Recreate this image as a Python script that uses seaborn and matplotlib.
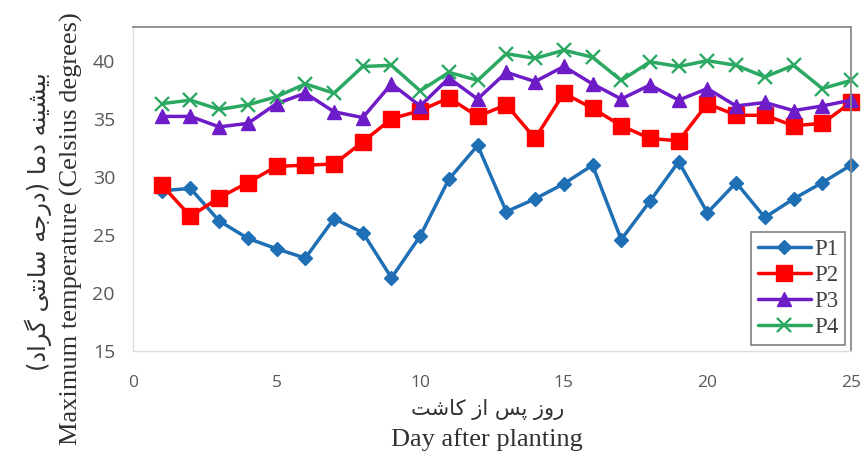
import matplotlib
matplotlib.use("Agg")
import matplotlib.pyplot as plt
import seaborn as sns
import numpy as np
import pandas as pd

# ---------------- data ----------------
days = list(range(1, 26))
p1 = [28.8, 29.0, 26.2, 24.7, 23.8, 23.0, 26.4, 25.2, 21.3, 24.9,
      29.8, 32.7, 27.0, 28.1, 29.4, 31.0, 24.6, 27.9, 31.3, 26.9,
      29.5, 26.5, 28.1, 29.5, 31.0]
p2 = [29.3, 26.6, 28.2, 29.5, 30.9, 31.0, 31.1, 33.0, 35.0, 35.7,
      36.8, 35.2, 36.2, 33.3, 37.2, 35.9, 34.4, 33.3, 33.1, 36.3,
      35.3, 35.3, 34.4, 34.6, 36.4]
p3 = [35.2, 35.2, 34.3, 34.6, 36.3, 37.2, 35.6, 35.1, 38.0, 36.1,
      38.5, 36.7, 39.0, 38.2, 39.5, 38.0, 36.7, 37.9, 36.6, 37.6,
      36.1, 36.4, 35.7, 36.1, 36.6]
p4 = [36.3, 36.6, 35.8, 36.2, 36.9, 38.0, 37.2, 39.5, 39.6, 37.4,
      39.0, 38.3, 40.6, 40.2, 40.9, 40.3, 38.3, 39.9, 39.5, 40.0,
      39.6, 38.6, 39.6, 37.6, 38.3]
series_names = ["P1", "P2", "P3", "P4"]
series_values = [p1, p2, p3, p4]
y_ticks = [15, 20, 25, 30, 35, 40]
x_ticks = [0, 5, 10, 15, 20, 25]

x_label_fa = "روز پس از کاشت"
x_label_en = "Day after planting"
y_label_fa = "بیشینه دما (درجه سانتی گراد)"
y_label_en = "Maximum temperature (Celsius degrees)"

# ---------------- Persian shaping (presentation forms, visual order) ----------------
FORMS = {
    'ا': ('\uFE8D', '\uFE8E', None, None),
    'ب': ('\uFE8F', '\uFE90', '\uFE91', '\uFE92'),
    'پ': ('\uFB56', '\uFB57', '\uFB58', '\uFB59'),
    'ت': ('\uFE95', '\uFE96', '\uFE97', '\uFE98'),
    'ج': ('\uFE9D', '\uFE9E', '\uFE9F', '\uFEA0'),
    'د': ('\uFEA9', '\uFEAA', None, None),
    'ر': ('\uFEAD', '\uFEAE', None, None),
    'ز': ('\uFEAF', '\uFEB0', None, None),
    'س': ('\uFEB1', '\uFEB2', '\uFEB3', '\uFEB4'),
    'ش': ('\uFEB5', '\uFEB6', '\uFEB7', '\uFEB8'),
    'ک': ('\uFB8E', '\uFB8F', '\uFB90', '\uFB91'),
    'گ': ('\uFB92', '\uFB93', '\uFB94', '\uFB95'),
    'م': ('\uFEE1', '\uFEE2', '\uFEE3', '\uFEE4'),
    'ن': ('\uFEE5', '\uFEE6', '\uFEE7', '\uFEE8'),
    'ه': ('\uFEE9', '\uFEEA', '\uFEEB', '\uFEEC'),
    'و': ('\uFEED', '\uFEEE', None, None),
    'ی': ('\uFBFC', '\uFBFD', '\uFBFE', '\uFBFF'),
}


def shape_fa(text):
    out = []
    n = len(text)
    for i, ch in enumerate(text):
        if ch not in FORMS:
            out.append(ch)
            continue
        f = FORMS[ch]
        prev = text[i - 1] if i > 0 else None
        nxt = text[i + 1] if i < n - 1 else None
        jp = prev in FORMS and FORMS[prev][2] is not None
        jn = nxt in FORMS and f[2] is not None
        if jp and jn:
            out.append(f[3])
        elif jp:
            out.append(f[1])
        elif jn:
            out.append(f[2])
        else:
            out.append(f[0])
    vis = "".join(reversed(out))
    vis = vis.translate(str.maketrans({"(": ")", ")": "("}))
    return vis


# ---------------- style ----------------
sns.set_theme(style="white")
plt.rcParams["font.family"] = ["Liberation Serif", "DejaVu Sans"]

colors = ["#1F6FB5", "#FF0000", "#6E1BC8", "#2BA862"]
markers = ["D", "s", "^", "x"]
msizes = [7.5, 11.5, 10.5, 9.5]

fig = plt.figure(figsize=(8.63, 4.54), dpi=100)
ax = fig.add_axes([133 / 863, 1 - 351 / 454, (851 - 133) / 863, (351 - 27) / 454])

for name, vals, c, m, ms in zip(series_names, series_values, colors, markers, msizes):
    df = pd.DataFrame({"day": days, "temp": vals})
    sns.lineplot(data=df, x="day", y="temp", ax=ax, color=c, marker=m,
                 markersize=ms, markeredgecolor=c,
                 markeredgewidth=1.7 if m == "x" else 1.0,
                 linewidth=2.5, label=name, clip_on=False)

ax.set_xlim(0, 25)
ax.set_ylim(15, 42.9)
ax.set_xticks(x_ticks)
ax.set_yticks(y_ticks)
ax.set_xticklabels([str(t) for t in x_ticks], fontfamily="Open Sans", fontsize=12.5, color="#595959")
ax.set_yticklabels([str(t) for t in y_ticks], fontfamily="Open Sans", fontsize=14, color="#595959")
ax.tick_params(axis="both", length=0)
ax.tick_params(axis="x", pad=17)
ax.tick_params(axis="y", pad=13)
ax.set_xlabel("")
ax.set_ylabel("")
ax.grid(False)

for side in ["top", "right"]:
    ax.spines[side].set_color("#8a8a8a")
    ax.spines[side].set_linewidth(1.3)
for side in ["left", "bottom"]:
    ax.spines[side].set_color("#dcdcdc")
    ax.spines[side].set_linewidth(1.0)

leg = ax.legend(loc="lower right", fontsize=16.5, frameon=True, fancybox=False,
                handlelength=2.3, handletextpad=0.15, labelspacing=0.22,
                borderpad=0.3, borderaxespad=0.25)
leg.get_frame().set_edgecolor("#606060")
leg.get_frame().set_linewidth(1.2)
for t in leg.get_texts():
    t.set_color("#404040")

# axis titles (Persian + English)
fig.text(488 / 863, 1 - 410 / 454, shape_fa(x_label_fa), fontfamily="DejaVu Sans",
         fontsize=15, color="#303030", ha="center", va="center")
fig.text(487 / 863, 1 - 440 / 454, x_label_en, fontfamily="Liberation Serif",
         fontsize=19, color="#303030", ha="center", va="center")
fig.text(38 / 863, 1 - 222 / 454, shape_fa(y_label_fa), fontfamily="DejaVu Sans",
         fontsize=17.5, color="#303030", ha="center", va="center", rotation=90)
fig.text(71 / 863, 1 - 229 / 454, y_label_en, fontfamily="Liberation Serif",
         fontsize=19, color="#303030", ha="center", va="center", rotation=90)

fig.savefig("out.png", dpi=100, facecolor="white")
